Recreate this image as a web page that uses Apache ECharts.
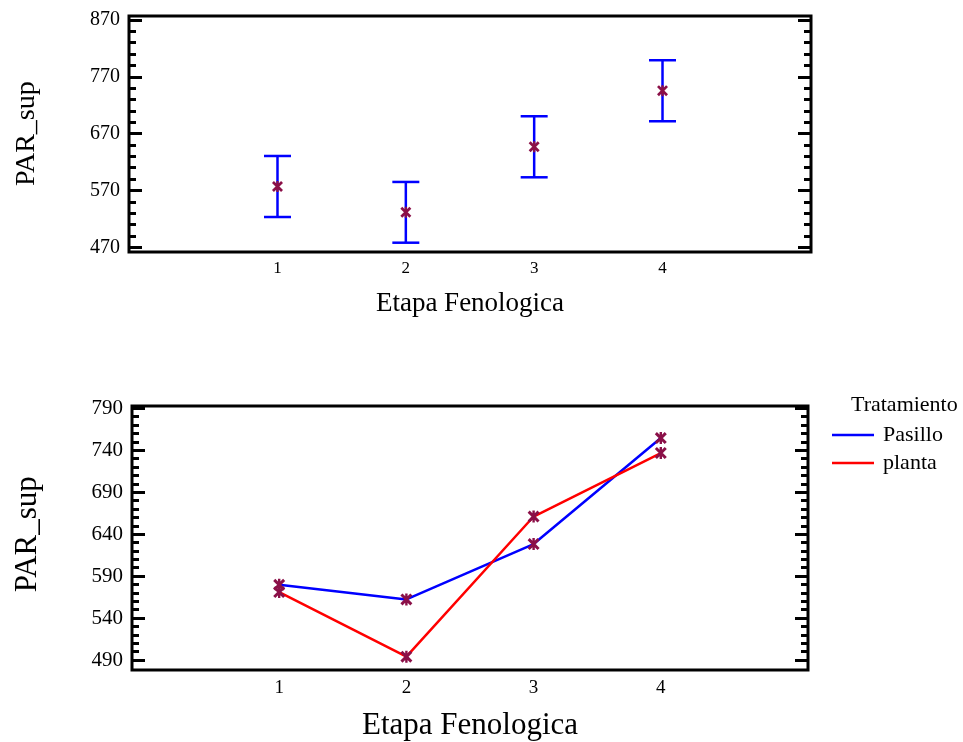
<!DOCTYPE html>
<html>
<head>
<meta charset="utf-8">
<script src="https://cdn.jsdelivr.net/npm/echarts@6/dist/echarts.min.js"></script>
<style>
  html, body { margin: 0; padding: 0; background: #fff; }
  #chart { width: 963px; height: 742px; }
</style>
</head>
<body>
<div id="chart"></div>
<script>
// etapa fenologica (x)
var etapas = [1, 2, 3, 4];

// top panel: means and intervals of PAR_sup by stage
var mediaPar = [577, 531.6, 647, 745.6];
var limSup = [630.7, 585, 700.6, 799.2];
var limInf = [523.3, 478.1, 593.2, 691.8];

// bottom panel: interaction by Tratamiento
var pasillo = [579.6, 562.2, 628.2, 754.5];
var planta = [571, 494, 661, 736.7];

// y ranges of the tick labels
var rangoArriba = [470, 870, 100];
var rangoAbajo = [490, 790, 50];

var fuente = 'Liberation Serif';
var granate = '#8b1048';
var asterisco = 'path://M8 0L12 0L12 20L8 20Z M0 3.5L3.5 0L20 16.5L16.5 20Z M16.5 0L20 3.5L3.5 20L0 16.5Z';

function pares(xs, ys) {
    return xs.map(function (x, i) { return [x, ys[i]]; });
}

// axis with ticks only (inside, major + minor)
function ejeTicks(grid, pos, rango) {
    return {
        type: 'value', gridIndex: grid, position: pos,
        min: rango[0], max: rango[1], interval: rango[2],
        splitLine: { show: false },
        axisLine: { show: false },
        axisTick: { show: true, inside: true, length: 13, lineStyle: { color: '#000', width: 3 } },
        minorTick: { show: true, splitNumber: 5, length: 7, lineStyle: { color: '#000', width: 3 } },
        axisLabel: { show: false }
    };
}

// axis with labels and name only
function ejeLabels(grid, rango, tam, gap, nomTam) {
    return {
        type: 'value', gridIndex: grid, position: 'left',
        min: rango[0], max: rango[1], interval: rango[2],
        splitLine: { show: false },
        axisLine: { show: false },
        axisTick: { show: false },
        axisLabel: { color: '#000', fontFamily: fuente, fontSize: tam, margin: 9 },
        name: 'PAR_sup', nameLocation: 'middle', nameGap: gap, nameRotate: 90,
        nameTextStyle: { color: '#000', fontFamily: fuente, fontSize: nomTam }
    };
}

function ejeX(grid, tam, margen, gap, nomTam) {
    return {
        type: 'value', gridIndex: grid, min: -0.157, max: 5.157,
        splitLine: { show: false }, axisLine: { show: false }, axisTick: { show: false },
        axisLabel: { customValues: etapas, color: '#000', fontFamily: fuente, fontSize: tam, margin: margen },
        name: 'Etapa Fenologica', nameLocation: 'middle', nameGap: gap,
        nameTextStyle: { color: '#000', fontFamily: fuente, fontSize: nomTam }
    };
}

var chart = echarts.init(document.getElementById('chart'));

var option = {
    animation: false,
    backgroundColor: '#fff',
    title: {
        text: 'Tratamiento', left: 851, top: 394, padding: 0,
        textStyle: { fontFamily: fuente, fontSize: 22, fontWeight: 'normal', color: '#000' }
    },
    legend: {
        data: ['Pasillo', 'planta'],
        orient: 'vertical', left: 832, top: 424, padding: 0,
        icon: 'rect', itemWidth: 42, itemHeight: 2.5, itemGap: 6,
        textStyle: { fontFamily: fuente, fontSize: 22, color: '#000', padding: [0, 0, 0, 4] }
    },
    grid: [
        // frame + inner plotting area (top)
        { left: 129, top: 16, width: 682, height: 236, show: true,
          borderColor: '#000', borderWidth: 3, backgroundColor: '#fff' },
        { left: 129, top: 20, width: 682, height: 227.3 },
        // frame + inner plotting area (bottom)
        { left: 132, top: 406, width: 676, height: 264, show: true,
          borderColor: '#000', borderWidth: 3, backgroundColor: '#fff' },
        { left: 132, top: 408.3, width: 676, height: 253.4 }
    ],
    xAxis: [
        { type: 'value', gridIndex: 0, show: false },
        ejeX(1, 17, 13, 43, 27),
        { type: 'value', gridIndex: 2, show: false },
        ejeX(3, 19, 19, 50, 31)
    ],
    yAxis: [
        { type: 'value', gridIndex: 0, show: false },
        ejeLabels(1, rangoArriba, 20, 88, 28),
        ejeTicks(1, 'left', rangoArriba),
        ejeTicks(1, 'right', rangoArriba),
        { type: 'value', gridIndex: 2, show: false },
        ejeLabels(3, rangoAbajo, 21, 89, 31),
        ejeTicks(3, 'left', rangoAbajo),
        ejeTicks(3, 'right', rangoAbajo)
    ],
    series: [
        {
            type: 'custom', xAxisIndex: 1, yAxisIndex: 1,
            data: etapas.map(function (x, i) { return [x, limInf[i], limSup[i]]; }),
            renderItem: function (params, api) {
                var arriba = api.coord([api.value(0), api.value(2)]);
                var abajo = api.coord([api.value(0), api.value(1)]);
                var w = 13.5;
                var st = { stroke: '#0000ff', lineWidth: 2.5 };
                return {
                    type: 'group',
                    children: [
                        { type: 'line', shape: { x1: arriba[0], y1: arriba[1], x2: abajo[0], y2: abajo[1] }, style: st },
                        { type: 'line', shape: { x1: arriba[0] - w, y1: arriba[1], x2: arriba[0] + w, y2: arriba[1] }, style: st },
                        { type: 'line', shape: { x1: abajo[0] - w, y1: abajo[1], x2: abajo[0] + w, y2: abajo[1] }, style: st }
                    ]
                };
            },
            z: 2
        },
        {
            type: 'scatter', xAxisIndex: 1, yAxisIndex: 1,
            data: pares(etapas, mediaPar),
            symbol: asterisco, symbolSize: 11,
            itemStyle: { color: granate, opacity: 1 }, z: 3
        },
        {
            name: 'Pasillo', type: 'line', xAxisIndex: 3, yAxisIndex: 5,
            data: pares(etapas, pasillo), symbol: 'none',
            itemStyle: { color: '#0000ff' }, lineStyle: { color: '#0000ff', width: 2.5 }, z: 2
        },
        {
            name: 'planta', type: 'line', xAxisIndex: 3, yAxisIndex: 5,
            data: pares(etapas, planta), symbol: 'none',
            itemStyle: { color: '#ff0000' }, lineStyle: { color: '#ff0000', width: 2.5 }, z: 2
        },
        {
            type: 'scatter', xAxisIndex: 3, yAxisIndex: 5,
            data: pares(etapas, pasillo).concat(pares(etapas, planta)),
            symbol: asterisco, symbolSize: 12,
            itemStyle: { color: granate, opacity: 1 }, z: 3
        }
    ]
};

chart.setOption(option);
</script>
</body>
</html>
